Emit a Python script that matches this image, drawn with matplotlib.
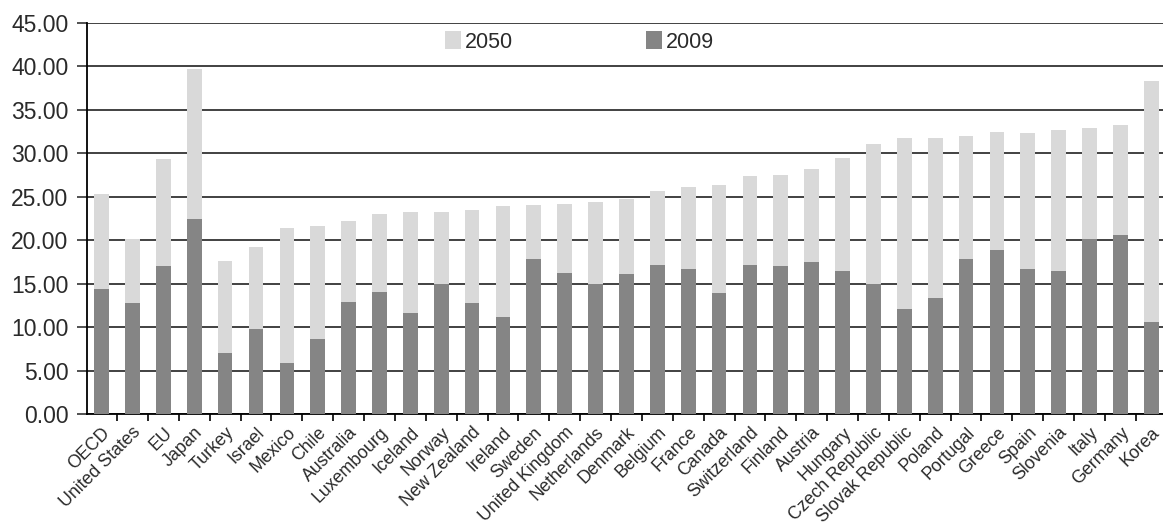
import numpy as np
import matplotlib
matplotlib.use("Agg")
import matplotlib.pyplot as plt
from matplotlib.ticker import FormatStrFormatter, FixedLocator

plt.rcParams['font.family'] = ['Liberation Sans', 'DejaVu Sans']

countries = ['OECD', 'United States', 'EU', 'Japan', 'Turkey', 'Israel', 'Mexico', 'Chile',
             'Australia', 'Luxembourg', 'Iceland', 'Norway', 'New Zealand', 'Ireland', 'Sweden',
             'United Kingdom', 'Netherlands', 'Denmark', 'Belgium', 'France', 'Canada',
             'Switzerland', 'Finland', 'Austria', 'Hungary', 'Czech Republic', 'Slovak Republic',
             'Poland', 'Portugal', 'Greece', 'Spain', 'Slovenia', 'Italy', 'Germany', 'Korea']
vals_2050 = [25.3, 20.1, 29.3, 39.7, 17.6, 19.2, 21.4, 21.6, 22.2, 23.0, 23.2, 23.3, 23.5, 23.9,
             24.1, 24.2, 24.4, 24.7, 25.7, 26.1, 26.3, 27.4, 27.5, 28.2, 29.4, 31.1, 31.8,
             31.8, 32.0, 32.4, 32.3, 32.7, 32.9, 33.2, 38.3]
vals_2009 = [14.4, 12.8, 17.0, 22.5, 7.0, 9.8, 5.9, 8.7, 12.9, 14.0, 11.7, 15.0, 12.8, 11.2,
             17.8, 16.2, 15.0, 16.1, 17.2, 16.7, 13.9, 17.2, 17.0, 17.5, 16.5, 15.0, 12.1,
             13.4, 17.8, 18.9, 16.7, 16.5, 20.1, 20.6, 10.6]

light = '#d9d9d9'
dark = '#858585'
txt = '#2a2a2a'

fig = plt.figure(figsize=(11.63, 5.29), dpi=100)
ax = fig.add_axes([0.0745, 0.2168, 0.9255, 0.7402])

x = np.arange(len(countries))
ax.bar(x, vals_2050, width=0.476, color=light, label='2050', zorder=2)
ax.bar(x, vals_2009, width=0.476, color=dark, label='2009', zorder=3)

ax.set_ylim(0, 45)
ax.set_xlim(-0.486, len(countries) - 1 + 0.38)
ax.set_yticks(np.arange(0, 46, 5))
ax.yaxis.set_major_formatter(FormatStrFormatter('%.2f'))
ax.yaxis.grid(True, color='#333333', linewidth=1.3, zorder=0)
ax.set_axisbelow(True)

# labels sit under bar centres, tick marks between the bars
ax.set_xticks(x)
ax.set_xticklabels(countries, rotation=45, ha='right', rotation_mode='anchor',
                   fontsize=12.8, color=txt)
ax.xaxis.set_minor_locator(FixedLocator(x[:-1] + 0.5))
ax.tick_params(axis='x', which='major', length=0, pad=7)
ax.tick_params(axis='x', which='minor', length=5, width=1.2, color='black')
ax.tick_params(axis='y', length=7.2, width=1.2, color='#333333', labelsize=16.5,
               labelcolor=txt, pad=6)

for side in ['top', 'right']:
    ax.spines[side].set_visible(False)
ax.spines['left'].set_linewidth(1.3)
ax.spines['bottom'].set_linewidth(1.3)

leg = ax.legend(loc='upper left', bbox_to_anchor=(0.333, 0.978), ncol=2, frameon=False,
                fontsize=15.5, handlelength=0.75, handleheight=0.9, handletextpad=0.15,
                columnspacing=6.2, borderaxespad=0, borderpad=0)
for t in leg.get_texts():
    t.set_color(txt)

fig.savefig('out.png', dpi=100)
